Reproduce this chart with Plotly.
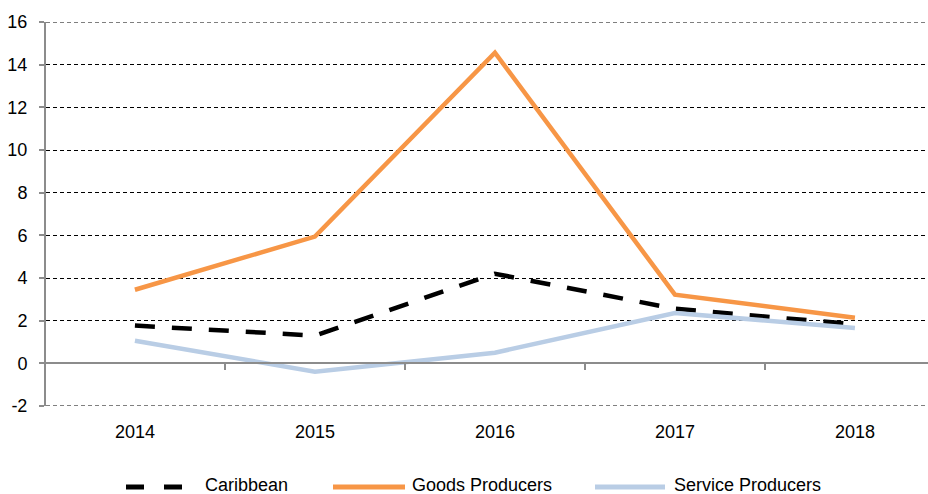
import plotly.graph_objects as go

years = ["2014", "2015", "2016", "2017", "2018"]
caribbean = [1.77, 1.30, 4.20, 2.56, 1.83]
goods = [3.45, 5.94, 14.56, 3.22, 2.14]
service = [1.06, -0.39, 0.50, 2.36, 1.66]
y_ticks = [-2, 0, 2, 4, 6, 8, 10, 12, 14, 16]
y_tick_labels = ["-2", "0", "2", "4", "6", "8", "10", "12", "14", "16"]

series_names = ["Caribbean", "Goods Producers", "Service Producers"]
series_values = [caribbean, goods, service]
series_colors = ["black", "#F79646", "#B9CDE5"]
series_dash = ["20px,17px", "solid", "solid"]

xi = list(range(len(years)))
y_min, y_max = y_ticks[0], y_ticks[-1]
x_lo, x_hi = -0.494, 4.406

W, H = 928, 494
ML, MR, MT, MB = 46, 0, 22, 88
PW, PH = W - ML - MR, H - MT - MB

fig = go.Figure()
for name, vals, col, dash in zip(series_names, series_values, series_colors, series_dash):
    fig.add_trace(go.Scatter(x=xi, y=vals, name=name, mode="lines",
                             line=dict(color=col, width=4.5, dash=dash),
                             showlegend=False))

font = dict(family="Liberation Sans, Arial, sans-serif", size=18, color="black")

# custom legend (swatch start/end and text start in pixels)
legend_items = [(126, 183, 203), (333, 405, 410), (595, 665, 672)]
legend_swatch_y = 487
legend_text_y = 485
def px_x(p):
    return (p - ML) / PW
def px_y(p):
    return (MT + PH - p) / PH

shapes = []
annotations = []
# edge gridlines (plotly drops grid lines exactly on the range edges)
for gy in (y_min, y_max):
    shapes.append(dict(type="line", xref="paper", yref="y", x0=0, x1=1, y0=gy, y1=gy,
                       layer="below", line=dict(color="black", width=1, dash="4px,3px")))
for (x0, x1, xt), name, col, dash in zip(legend_items, series_names, series_colors, series_dash):
    shapes.append(dict(type="line", xref="paper", yref="paper",
                       x0=px_x(x0), x1=px_x(x1), y0=px_y(legend_swatch_y), y1=px_y(legend_swatch_y),
                       line=dict(color=col, width=5,
                                 dash="18px,20px" if dash != "solid" else "solid")))
    annotations.append(dict(xref="paper", yref="paper", x=px_x(xt), y=px_y(legend_text_y),
                            xanchor="left", yanchor="middle", text=name, showarrow=False,
                            font=font))

fig.update_layout(
    width=W, height=H,
    margin=dict(l=ML, r=MR, t=MT, b=MB),
    paper_bgcolor="white", plot_bgcolor="white",
    font=font,
    showlegend=False,
    shapes=shapes, annotations=annotations,
    xaxis=dict(range=[x_lo, x_hi], tickvals=xi, ticktext=years, showgrid=False,
               zeroline=False, showline=False, ticks="outside", ticklen=9,
               tickcolor="rgba(0,0,0,0)", tickfont=font, automargin=False),
    xaxis2=dict(range=[x_lo, x_hi], overlaying="x", anchor="free",
                position=(0 - y_min) / (y_max - y_min), side="bottom",
                tickvals=[i - 0.5 for i in xi] + [xi[-1] + 0.5],
                showticklabels=False, ticks="outside", ticklen=6, tickwidth=2,
                tickcolor="#8C8C8C", showline=True, linecolor="#8C8C8C", linewidth=2,
                showgrid=False, zeroline=False, automargin=False),
    yaxis=dict(range=[y_min, y_max], tickvals=y_ticks, ticktext=y_tick_labels,
               showgrid=True, griddash="4px,3px", gridcolor="black", gridwidth=1,
               zeroline=False, showline=True, linecolor="#8C8C8C", linewidth=2,
               ticks="outside", ticklen=5, tickwidth=2, tickcolor="#8C8C8C",
               ticklabelstandoff=8, tickfont=font, automargin=False),
)
fig.add_trace(go.Scatter(x=[x_lo], y=[None], xaxis="x2", showlegend=False, hoverinfo="skip"))

fig.write_html("out.html", config={"displayModeBar": False},
               post_script="document.body.style.margin='0';document.body.style.overflow='hidden';")
